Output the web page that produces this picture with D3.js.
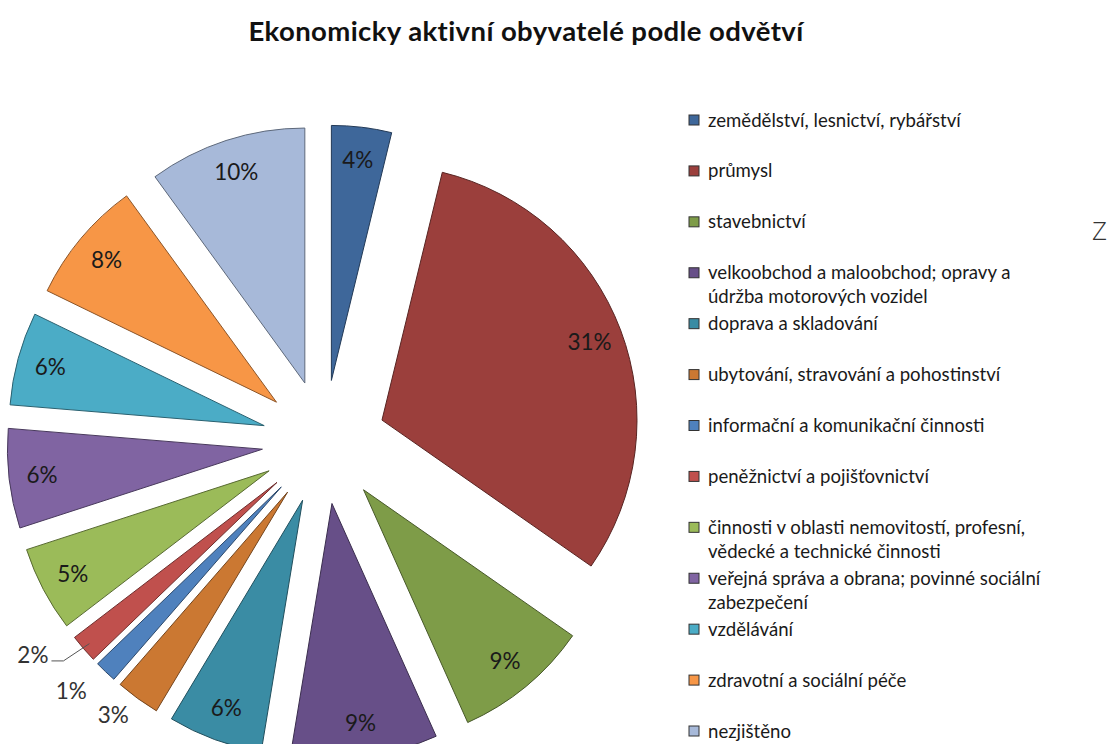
<!DOCTYPE html>
<html lang="cs">
<head>
  <meta charset="UTF-8">
  <title>Ekonomicky aktivní obyvatelé podle odvětví</title>
  <script src="https://d3js.org/d3.v7.min.js"></script>
  <style>
    body { margin: 0; background: #fff; }
    svg { display: block; font-family: Lato, "Open Sans", sans-serif; }
    .slice { stroke-width: 1px; }
    .pct { font-size: 22.5px; fill: #1a1a1a; }
    .legend text { font-size: 18.6px; fill: #1a1a1a; }
  </style>
</head>
<body>
  <svg id="chart" width="1112" height="744"></svg>
  <script>
    // data (share of economically active people, %)
    const sectors = [
      ["zemědělství, lesnictví, rybářství"],
      ["průmysl"],
      ["stavebnictví"],
      ["velkoobchod a maloobchod; opravy a", "údržba motorových vozidel"],
      ["doprava a skladování"],
      ["ubytování, stravování a pohostinství"],
      ["informační a komunikační činnosti"],
      ["peněžnictví a pojišťovnictví"],
      ["činnosti v oblasti nemovitostí, profesní,", "vědecké a technické činnosti"],
      ["veřejná správa a obrana; povinné sociální", "zabezpečení"],
      ["vzdělávání"],
      ["zdravotní a sociální péče"],
      ["nezjištěno"]
    ];
    const shares = [3.8, 30.9, 8.6, 9.3, 6.0, 2.8, 1.4, 1.8, 5.4, 6.3, 5.9, 7.8, 10.0];
    const colors = ["#3E679A", "#9B3F3C", "#7E9C48", "#674F88", "#3A8CA4", "#CB7832",
                    "#4F81BD", "#C0504D", "#9BBB59", "#8064A2", "#4BACC6", "#F79646", "#A7B9D9"];

    const svg = d3.select("#chart");
    const cx = 324, cy = 442, R = 255, explode = 62;

    // title
    svg.append("text")
      .attr("x", 526).attr("y", 41)
      .attr("text-anchor", "middle")
      .style("font-size", "27.5px").style("font-weight", "bold").style("fill", "#111")
      .style("letter-spacing", "0.4px")
      .text("Ekonomicky aktivní obyvatelé podle odvětví");

    const pie = d3.pie().sort(null).value(d => d)(shares);
    const arc = d3.arc().innerRadius(0).outerRadius(R);

    const g = svg.append("g").attr("transform", `translate(${cx},${cy})`);

    // each slice pulled out along its middle angle
    const mid = d => (d.startAngle + d.endAngle) / 2;
    const shift = d => [explode * Math.sin(mid(d)), -explode * Math.cos(mid(d))];

    const slices = g.selectAll("g.s")
      .data(pie)
      .join("g")
        .attr("class", "s")
        .attr("transform", d => `translate(${shift(d)})`);

    slices.append("path")
      .attr("class", "slice")
      .attr("d", arc)
      .attr("fill", (d, i) => colors[i])
      .attr("stroke", (d, i) => d3.color(colors[i]).darker(1.6));

    // small slices get their labels outside
    const outside = { 5: { r: 1.11, da: 2 }, 6: { r: 1.15, da: 2.2 }, 7: { r: 1.18, da: 5.7 } };

    slices.append("text")
      .attr("class", "pct")
      .attr("text-anchor", (d, i) => i === 7 ? "end" : "middle")
      .attr("dy", "0.35em")
      .attr("transform", (d, i) => {
        const o = outside[i];
        const a = mid(d) + (o ? o.da * Math.PI / 180 : 0);
        const r = R * (o ? o.r : 0.87);
        const dx = i === 7 ? 18 : 0;
        return `translate(${r * Math.sin(a) + dx},${-r * Math.cos(a)})`;
      })
      .style("fill", (d, i) => outside[i] ? "#333" : null)
      .text(d => Math.round(d.value) + "%");

    // leader line for the 2 % slice
    slices.filter((d, i) => i === 7).append("path")
      .attr("fill", "none").attr("stroke", "#555").attr("stroke-width", 1)
      .attr("d", d => {
        const a = mid(d);
        const end = [R * 0.97 * Math.sin(a), -R * 0.97 * Math.cos(a)];
        const o = outside[7];
        const la = a + o.da * Math.PI / 180;
        const lx = o.r * R * Math.sin(la) + 21, ly = -o.r * R * Math.cos(la) + 6;
        return `M${lx},${ly}H${lx + 12}L${end[0]},${end[1]}`;
      });

    // legend
    const legend = svg.append("g").attr("class", "legend");
    const rowY = d3.scaleLinear().domain([0, sectors.length - 1]).range([120, 731]);
    const item = legend.selectAll("g")
      .data(sectors)
      .join("g")
        .attr("transform", (d, i) => `translate(689,${rowY(i)})`);
    item.append("rect")
      .attr("x", 0).attr("y", -5).attr("width", 10).attr("height", 10)
      .attr("fill", (d, i) => colors[i])
      .attr("stroke", "#333").attr("stroke-width", 1);
    item.append("text")
      .attr("x", 19).attr("y", 6.5)
      .selectAll("tspan")
      .data(d => d)
      .join("tspan")
        .attr("x", 19)
        .attr("dy", (d, j) => j === 0 ? 0 : 24)
        .text(d => d);

    // stray letter at the right edge of the original
    svg.append("text")
      .attr("x", 1092).attr("y", 240)
      .style("font-family", "'Open Sans', sans-serif").style("font-weight", 300)
      .style("font-size", "26px").style("fill", "#333")
      .text("Z");
  </script>
</body>
</html>
